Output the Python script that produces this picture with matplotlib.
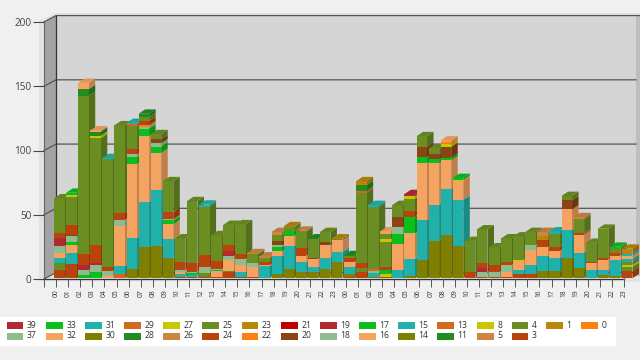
import matplotlib
matplotlib.use('Agg')
import matplotlib.pyplot as plt
import matplotlib.colors as mcolors
from matplotlib.patches import Rectangle

plt.rcParams['font.family'] = ['Open Sans', 'DejaVu Sans']

hours = ['00', '01', '02', '03', '04', '05', '06', '07', '08', '09', '10', '11',
         '12', '13', '14', '15', '16', '17', '18', '19', '20', '21', '22', '23'] * 2

legend_top = [39, 33, 31, 29, 27, 25, 23, 21, 19, 17, 15, 13, 8, 4, 1, 0]
legend_bottom = [37, 32, 30, 28, 26, 24, 22, 20, 18, 16, 14, 11, 5, 3]

series_colors = {
    39: '#B02A30', 19: '#B02A30', 37: '#8FBC8F', 18: '#8FBC8F',
    33: '#0ABF1C', 17: '#0ABF1C', 32: '#F4A460', 16: '#F4A460',
    31: '#20B2AA', 15: '#20B2AA', 30: '#808000', 14: '#808000',
    29: '#D2691E', 13: '#D2691E', 28: '#228B22', 11: '#228B22',
    27: '#C8C800', 8: '#C8C800', 26: '#CD853F', 5: '#CD853F',
    25: '#6B8E23', 4: '#6B8E23', 24: '#B8430C', 3: '#B8430C',
    23: '#B8860B', 1: '#B8860B', 22: '#FF7F0E', 0: '#FF7F0E',
    21: '#C00000', 20: '#8B4513',
}

# stacks are read bottom to top, {series: value}
bar_00 = {3: 6.5, 4: 5, 15: 4, 16: 4, 18: 5.7, 19: 6, 24: 4, 25: 27}
bar_01 = {3: 11, 15: 9, 16: 5.5, 17: 3, 18: 4, 20: 1, 24: 8, 25: 22, 27: 1, 33: 2}
bar_02 = {17: 2.5, 18: 4, 19: 4, 24: 8.5, 25: 123, 28: 5, 29: 0.5, 32: 4.5}
bar_03 = {17: 5, 18: 5, 19: 1.5, 24: 14, 25: 83.5, 27: 2, 28: 3, 32: 1}
bar_04 = {16: 2, 18: 4, 24: 2.5, 25: 84, 31: 1}
bar_05 = {13: 3.5, 15: 6, 16: 31, 18: 5, 24: 5.5, 25: 68}
bar_06 = {14: 7.5, 15: 24, 16: 57.5, 17: 5.5, 18: 1.8, 24: 4.4, 25: 18, 29: 1.2, 31: 1}
bar_07 = {14: 24, 15: 35.5, 16: 51, 17: 6, 18: 1.5, 22: 1, 24: 3.5, 25: 3, 28: 2.5}
bar_08 = {14: 25, 15: 43.5, 16: 29, 17: 5, 18: 2.6, 20: 3, 25: 4}
bar_09 = {14: 15.5, 15: 15, 16: 11.5, 17: 3, 18: 0.8, 24: 5.7, 25: 24}
bar_10 = {3: 1, 15: 2.5, 16: 1.5, 18: 1.5, 24: 6, 25: 18.5}
bar_11 = {3: 1, 15: 1.5, 17: 1.5, 18: 1, 24: 7, 25: 48}
bar_12 = {3: 1.3, 4: 2.5, 18: 5, 24: 9, 25: 38, 31: 1.5}
bar_13 = {3: 1, 16: 5, 17: 0.5, 18: 0.5, 24: 6.5, 25: 20}
bar_14 = {3: 5, 4: 1, 16: 8, 18: 3.5, 19: 4, 24: 4, 25: 16}
bar_15 = {3: 1, 15: 4, 16: 5, 18: 5, 24: 3.5, 25: 23.5}
bar_16 = {3: 1, 16: 7.5, 18: 3, 25: 7, 26: 1}
bar_17 = {3: 0.5, 15: 9, 16: 1, 24: 2, 25: 3.5, 26: 1}
bar_18 = {14: 3, 15: 14, 16: 4, 17: 3.5, 18: 1, 20: 3.5, 25: 5, 26: 2}
bar_19 = {14: 7, 15: 18, 16: 8, 17: 4, 25: 2.5, 23: 1}
bar_20 = {14: 4.5, 15: 8, 16: 5, 24: 6, 25: 13, 26: 0.5}
bar_21 = {14: 4.5, 15: 4, 16: 6.5, 20: 1, 25: 14.5, 28: 0.5}
bar_22 = {14: 7, 15: 9, 16: 9.5, 20: 2.5, 25: 8}
bar_23 = {14: 12.5, 15: 8, 16: 9, 25: 1, 23: 0.5}

bar_24 = {3: 1, 14: 2.5, 15: 5.5, 16: 4, 24: 2.5, 25: 2, 28: 0.5}
bar_25 = {3: 5, 4: 3, 24: 3.5, 25: 55, 29: 1.5, 28: 4.5, 1: 3}
bar_26 = {14: 1, 15: 3, 18: 2, 13: 1.5, 25: 48, 31: 1.5}
bar_27 = {3: 1, 8: 2.5, 17: 3, 24: 2.5, 25: 19, 27: 2.5, 4: 4, 32: 2}
bar_28 = {15: 6.5, 16: 20, 17: 8, 18: 5, 20: 8, 25: 9.5}
bar_29 = {14: 2, 15: 13, 16: 20, 17: 13, 24: 4, 25: 10, 27: 2, 19: 1.5}
bar_30 = {14: 14.5, 15: 30.5, 16: 44.5, 17: 4.7, 20: 8, 25: 8.3}
bar_31 = {14: 29, 15: 28, 16: 32.5, 17: 3, 20: 4, 25: 4.5}
bar_32 = {14: 33.7, 15: 36, 16: 22, 17: 2, 20: 8.5, 27: 2.5, 22: 1.5, 32: 1}
bar_33 = {14: 25, 15: 36, 16: 15, 8: 0.5, 33: 1.5}
bar_34 = {3: 5, 25: 24}
bar_35 = {3: 1, 18: 4, 19: 3, 24: 4, 25: 26}
bar_36 = {3: 1, 18: 4, 24: 5.5, 25: 13.5}
bar_37 = {3: 1, 16: 4, 18: 5.5, 24: 2.5, 25: 18}
bar_38 = {3: 3, 15: 3.5, 16: 7, 8: 1, 25: 18}
bar_39 = {3: 3, 15: 7, 16: 12, 18: 4, 25: 10}
bar_40 = {14: 6, 15: 11.5, 16: 7, 24: 5.5, 1: 3, 26: 3}
bar_41 = {14: 5.5, 15: 10.5, 16: 5.5, 24: 3, 25: 10, 31: 2}
bar_42 = {14: 15.5, 15: 22, 16: 16, 20: 7, 25: 3.5}
bar_43 = {14: 8, 15: 12, 16: 14, 24: 1, 25: 11, 26: 1.5}
bar_44 = {15: 6.5, 16: 5, 24: 1, 25: 15}
bar_45 = {14: 2.5, 15: 4, 16: 8, 24: 1.5, 25: 22.5}
bar_46 = {14: 2, 15: 12, 16: 3.5, 24: 2, 25: 4, 33: 1}
bar_47 = {3: 5.5, 4: 3, 8: 2, 25: 2, 15: 2.5, 16: 2.5, 31: 1.5, 1: 4}

stacks = [bar_00, bar_01, bar_02, bar_03, bar_04, bar_05, bar_06, bar_07,
          bar_08, bar_09, bar_10, bar_11, bar_12, bar_13, bar_14, bar_15,
          bar_16, bar_17, bar_18, bar_19, bar_20, bar_21, bar_22, bar_23,
          bar_24, bar_25, bar_26, bar_27, bar_28, bar_29, bar_30, bar_31,
          bar_32, bar_33, bar_34, bar_35, bar_36, bar_37, bar_38, bar_39,
          bar_40, bar_41, bar_42, bar_43, bar_44, bar_45, bar_46, bar_47]

W, H = 640, 360
fig = plt.figure(figsize=(W / 100, H / 100), dpi=100, facecolor='#F0F0F0')
# axes box is the front plane of the fake 3d chart
ax = fig.add_axes([44 / W, (H - 279) / H, 580 / W, 257 / H])
ax.set_xlim(0, 48)
ax.set_ylim(0, 200)
ax.patch.set_visible(False)
for s in ax.spines.values():
    s.set_visible(False)

# wall offsets, in data units
wall_dx, wall_dy = 1, 5
ymax = 200

# light halo around the box
ax.fill([-0.4, -0.4, wall_dx, 49.4, 49.4], [-2, ymax + 1, ymax + 7, ymax + 7, -2],
        color='#E2E2E2', clip_on=False, zorder=0, lw=0)
# back wall, left wall, floor, right wall
ax.fill([wall_dx, 49, 49, wall_dx], [wall_dy, wall_dy, ymax + wall_dy, ymax + wall_dy],
        color='#D5D5D5', clip_on=False, zorder=0.5, lw=0)
ax.fill([0, wall_dx, wall_dx, 0], [0, wall_dy, ymax + wall_dy, ymax],
        color='#A3A3A3', clip_on=False, zorder=0.6, lw=0)
ax.fill([0, 48, 49, wall_dx], [0, 0, wall_dy, wall_dy],
        color='#E6E6E6', clip_on=False, zorder=0.6, lw=0)
ax.fill([49, 49.7, 49.7, 49], [wall_dy - 3, wall_dy - 3, ymax + wall_dy, ymax + wall_dy],
        color='#BEBEBE', clip_on=False, zorder=0.6, lw=0)

# grid on the walls
for v in [0, 50, 100, 150, 200]:
    ax.plot([0, wall_dx, 49.7 if v == 200 else 49], [v, v + wall_dy, v + wall_dy],
            color='#555555', lw=0.9, clip_on=False, zorder=1)
ax.plot([wall_dx, wall_dx], [wall_dy, ymax + wall_dy], color='#333333', lw=0.9,
        clip_on=False, zorder=1)
ax.plot([0, 0], [0, ymax], color='#666666', lw=0.8, clip_on=False, zorder=1)
ax.plot([0, 48], [0, 0], color='#333333', lw=0.9, clip_on=False, zorder=1.5)
ax.plot([48, 49], [0, wall_dy], color='#999999', lw=0.8, clip_on=False, zorder=1.5)

# bars
bar_x, bar_w = 0.83, 0.87
side_dx, side_dy = 0.54, 3.4
base = 0.6


def shade(color, k):
    r, g, b = mcolors.to_rgb(color)
    return (r * k, g * k, b * k)


for i, stack in enumerate(stacks):
    bottom = base
    x0 = i + bar_x
    x1 = x0 + bar_w
    for name, value in stack.items():
        color = series_colors[name]
        top = bottom + value
        ax.fill([x1, x1 + side_dx, x1 + side_dx, x1],
                [bottom, bottom + side_dy, top + side_dy, top],
                color=shade(color, 0.78), lw=0, zorder=3, clip_on=False)
        ax.bar(x0, value, bar_w, bottom=bottom, align='edge', color=color, lw=0,
               zorder=3, clip_on=False)
        bottom = top
    ax.fill([x0, x1, x1 + side_dx, x0 + side_dx],
            [bottom, bottom, bottom + side_dy, bottom + side_dy],
            color=shade(color, 0.92), lw=0, zorder=3, clip_on=False)

# axis ticks
ax.set_yticks([0, 50, 100, 150, 200])
ax.set_xticks(range(0, 49))
ax.set_xticklabels([''] + hours, rotation=90, fontsize=4.8, color='#333333')
ax.tick_params(axis='y', length=7.9, width=0.8, color='#444444', pad=1.2,
               labelsize=7.2, labelcolor='#444444')
ax.tick_params(axis='x', length=6, width=0.7, color='#555555', pad=1.5)

# legend strip
fig.patches.append(Rectangle((0, (H - 346) / H), 616 / W, 29 / H, transform=fig.transFigure,
                             facecolor='white', edgecolor='none', zorder=1))
col_x = [6.5, 46, 85, 124, 163, 202, 241.5, 281, 320, 359, 398, 437, 477, 511.5, 546, 581]
for row_y, names in ((325.5, legend_top), (336, legend_bottom)):
    for x, name in zip(col_x, names):
        fig.patches.append(Rectangle((x / W, (H - row_y - 3.5) / H), 16.5 / W, 7 / H,
                                     transform=fig.transFigure,
                                     facecolor=series_colors[name], edgecolor='none', zorder=2))
        fig.text((x + 20.5) / W, (H - row_y) / H, str(name), fontsize=6.2, color='#333333',
                 va='center', ha='left', zorder=3)

fig.savefig('out.png', dpi=100, facecolor=fig.get_facecolor())
